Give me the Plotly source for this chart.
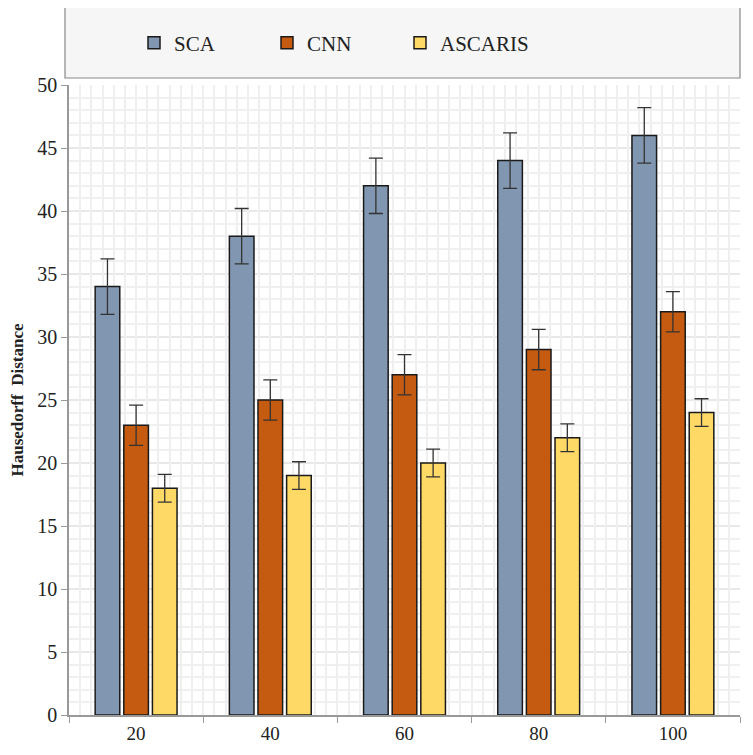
import plotly.graph_objects as go

categories = ["20", "40", "60", "80", "100"]
sca = [34, 38, 42, 44, 46]
cnn = [23, 25, 27, 29, 32]
ascaris = [18, 19, 20, 22, 24]
sca_err = [2.2, 2.2, 2.2, 2.2, 2.2]
cnn_err = [1.6, 1.6, 1.6, 1.6, 1.6]
ascaris_err = [1.1, 1.1, 1.1, 1.1, 1.1]

series = [
    ("SCA", sca, sca_err, "#8096b1"),
    ("CNN", cnn, cnn_err, "#c55a11"),
    ("ASCARIS", ascaris, ascaris_err, "#ffd966"),
]

fig = go.Figure()
for name, vals, errs, col in series:
    fig.add_trace(go.Bar(
        x=categories, y=vals, name=name,
        marker=dict(color=col, line=dict(color="#1a1a1a", width=1.5)),
        error_y=dict(type="data", array=errs, visible=True, color="#333333", thickness=1.3, width=7),
    ))
# invisible helper trace for the vertical fine grid
fig.add_trace(go.Scatter(x=[-0.5, 4.5], y=[0, 0], xaxis="x2", mode="markers",
                         marker=dict(opacity=0), showlegend=False, hoverinfo="skip"))

OFF = 8  # page body margin
W, H = 745, 747
ml, mr, mt, mb = 69 - OFF, 13, 85 - OFF, 40
ph = H - mt - mb
pw = W - ml - mr


def px(x):
    return (x - OFF - ml) / pw


def py(y):
    return 1 - (y - OFF - mt) / ph


fig.update_layout(
    width=W, height=H,
    margin=dict(l=ml, r=mr, t=mt, b=mb, autoexpand=False),
    paper_bgcolor="white", plot_bgcolor="white",
    barmode="group", bargap=0.36, bargroupgap=0.14,
    font=dict(family="Liberation Serif", size=18, color="#222222"),
    showlegend=True,
    legend=dict(orientation="h", x=px(134), xanchor="left", y=py(43), yanchor="middle",
                bgcolor="rgba(0,0,0,0)", font=dict(size=21, family="Liberation Serif", color="#222222"),
                entrywidth=88, itemwidth=30),
    shapes=[dict(type="rect", xref="paper", yref="paper",
                 x0=px(65), x1=px(740), y0=py(78), y1=py(5),
                 line=dict(color="#888888", width=1.2), fillcolor="#f6f6f6", layer="below")],
    xaxis=dict(type="category", tickson="boundaries", ticks="outside", ticklen=6,
               tickcolor="#999999", showline=True, linecolor="#999999", linewidth=1.5,
               showgrid=False, automargin=False,
               tickfont=dict(size=19, family="Liberation Serif")),
    xaxis2=dict(overlaying="x", range=[-0.5, 4.5], dtick=1 / 12, tick0=-0.5, showgrid=True,
                gridcolor="#efefef", gridwidth=1.5, showticklabels=False, ticks="", zeroline=False,
                showline=False, side="bottom"),
)
fig.update_yaxes(
    range=[0, 50], dtick=5, ticks="outside", ticklen=6, tickcolor="#999999",
    showline=True, linecolor="#999999", linewidth=1.5,
    showgrid=True, gridcolor="#e8e8e8", gridwidth=1.5,
    minor=dict(dtick=1, showgrid=True, gridcolor="#f0f0f0", gridwidth=1.5),
    zeroline=False, automargin=False,
    tickfont=dict(size=20, family="Liberation Serif"),
    title=dict(text="<b>Hausedorff  Distance</b>", font=dict(size=17, family="Liberation Serif"), standoff=16),
)
fig.write_html("out.html")
